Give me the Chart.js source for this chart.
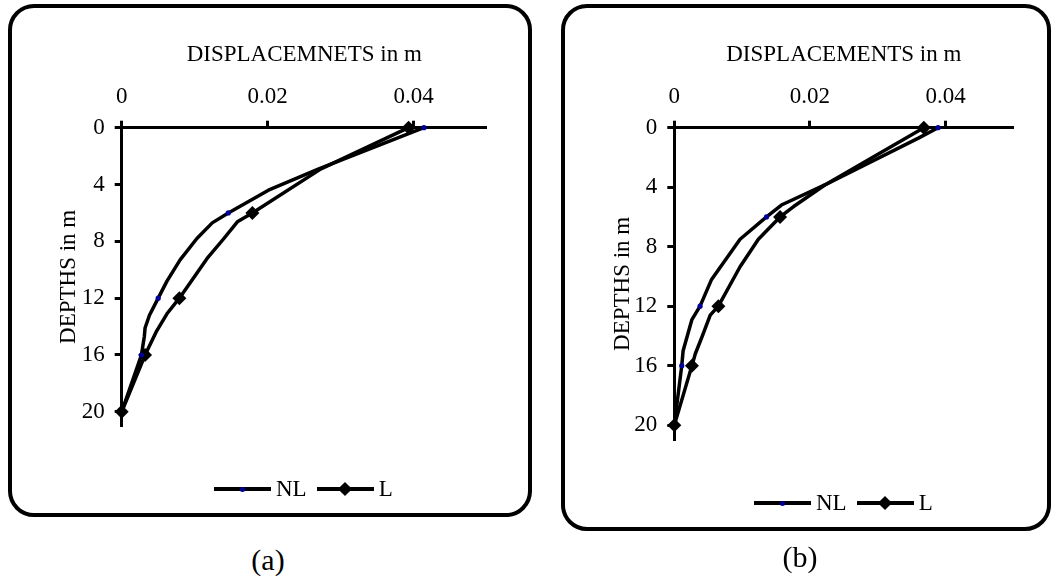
<!DOCTYPE html>
<html>
<head>
<meta charset="utf-8">
<script src="https://cdn.jsdelivr.net/npm/chart.js@4.4.0/dist/chart.umd.min.js"></script>
<style>
body{margin:0;background:#fff;width:1052px;height:579px;position:relative;overflow:hidden;font-family:'Liberation Serif','Times New Roman',serif;color:#000;}
.box{position:absolute;border:4px solid #000;border-radius:26px;box-sizing:border-box;}
canvas{position:absolute;top:0;}
.legend{position:absolute;display:flex;align-items:center;height:26px;font-size:23px;}
.lg-line{position:relative;width:57px;height:4px;background:#000;}
.lg-dot{position:absolute;left:50%;top:50%;width:5px;height:5px;margin:-2.5px 0 0 -2.5px;border-radius:50%;background:#000099;}
.lg-dia{position:absolute;left:50%;top:50%;width:10px;height:10px;margin:-5px 0 0 -5px;background:#000;transform:rotate(45deg);}
.legend span{margin:0 10px 0 5px;}
.cap{position:absolute;font-size:30px;transform:translate(-50%,-50%);}
</style>
</head>
<body>
<div class="box" style="left:8px;top:4px;width:524px;height:513px"></div>
<div class="box" style="left:561px;top:4px;width:490px;height:527px"></div>
<canvas id="chart-a" width="530" height="515" style="left:0"></canvas>
<canvas id="chart-b" width="512" height="530" style="left:540px"></canvas>
<div class="legend" id="legend-a" style="left:214px;top:476px"></div>
<div class="legend" id="legend-b" style="left:754px;top:490px"></div>
<div class="cap" style="left:268px;top:560px">(a)</div>
<div class="cap" style="left:800px;top:557px">(b)</div>
<script>
// (a) values, depth in m / displacement in m
const nlDepthA = [0, 2.9, 4.4, 6, 6.7, 7.8, 9.3, 10.8, 12, 13.2, 14.1, 14.7, 16, 20];
const nlDispA  = [0.0414, 0.0270, 0.0201, 0.0146, 0.0124, 0.0103, 0.0080, 0.0062, 0.0050, 0.0038, 0.0032, 0.0031, 0.0027, 0];
const lDepthA  = [0, 2.9, 6, 6.6, 7.8, 9.2, 12, 13.1, 14.3, 16, 20];
const lDispA   = [0.0393, 0.0273, 0.0179, 0.0159, 0.0140, 0.0117, 0.0079, 0.0062, 0.0048, 0.0032, 0];

// (b)
const nlDepthB = [0, 0.7, 3.85, 5.2, 6, 7.5, 10.2, 12, 12.9, 15, 16, 20];
const nlDispB  = [0.0389, 0.0360, 0.0222, 0.0158, 0.0136, 0.0097, 0.0055, 0.0038, 0.0026, 0.0013, 0.0011, 0];
const lDepthB  = [0, 3.85, 5.3, 6, 7.5, 9.35, 12, 12.6, 14.05, 15.2, 16, 20];
const lDispB   = [0.0368, 0.0222, 0.0176, 0.0156, 0.0124, 0.0097, 0.0065, 0.0053, 0.0041, 0.0031, 0.0026, 0];

// depths carrying a marker
const NL_MARKS = [0, 6, 12, 16];
const L_MARKS  = [0, 6, 12, 16, 20];

const X_TICKS = [0, 0.02, 0.04];
const Y_TICKS = [0, 4, 8, 12, 16, 20];

const FONT = {family:"'Liberation Serif','Times New Roman',serif", size:23};
Chart.defaults.font.family = FONT.family;
Chart.defaults.color = '#000';

function pts(disp, depth) { return disp.map((v,i)=>({x:v, y:depth[i]})); }
function markR(marks, r) { return c => (c.raw && marks.includes(c.raw.y)) ? r : 0; }

const axisGrid = {drawOnChartArea:false, drawTicks:true, tickLength:7, tickWidth:3, color:'#000'};
const axisBorder = {display:true, color:'#000', width:3};

function buildDepthChart(id, nl, l, lay) {
  new Chart(document.getElementById(id), {
    type:'scatter',
    data:{datasets:[
      {label:'NL', data:nl, showLine:true, borderColor:'#000', borderWidth:3.5, borderJoinStyle:'round', tension:0, clip:false,
       pointStyle:'circle', pointBackgroundColor:'#000099', pointBorderWidth:0,
       pointRadius:markR(NL_MARKS,2.6), pointHoverRadius:markR(NL_MARKS,2.6)},
      {label:'L', data:l, showLine:true, borderColor:'#000', borderWidth:3.5, borderJoinStyle:'round', tension:0, clip:false,
       pointStyle:'rectRot', pointBackgroundColor:'#000', pointBorderWidth:0,
       pointRadius:markR(L_MARKS,7), pointHoverRadius:markR(L_MARKS,7)},
    ]},
    options:{
      responsive:false, animation:false, events:[],
      layout:{padding:{left:0, top:0, right:lay.right, bottom:lay.bottom}},
      plugins:{legend:{display:false}, tooltip:{enabled:false}},
      scales:{
        x:{type:'linear', position:'top', min:0, max:0.05,
           afterFit:s=>{ s.height = lay.top; },
           afterBuildTicks:s=>{ s.ticks = X_TICKS.map(v=>({value:v})); },
           ticks:{color:'#000', font:FONT, padding:10, maxRotation:0, callback:v=>v===0?'0':v.toFixed(2)},
           grid:axisGrid, border:axisBorder,
           title:{display:true, text:lay.title, color:'#000', font:FONT, padding:{top:41, bottom:0}}},
        y:{type:'linear', reverse:true, min:0, max:21,
           afterFit:s=>{ s.width = lay.left; },
           afterBuildTicks:s=>{ s.ticks = Y_TICKS.map(v=>({value:v})); },
           ticks:{color:'#000', font:FONT, padding:10},
           grid:axisGrid, border:axisBorder,
           title:{display:true, text:'DEPTHS in m', color:'#000', font:FONT, padding:{top:lay.ytitle, bottom:0}}},
      },
    },
  });
}

function buildLegend(id) {
  document.getElementById(id).innerHTML =
    '<div class="lg-line"><div class="lg-dot"></div></div><span>NL</span>' +
    '<div class="lg-line"><div class="lg-dia"></div></div><span>L</span>';
}

buildDepthChart('chart-a', pts(nlDispA,nlDepthA), pts(lDispA,lDepthA),
  {title:'DISPLACEMNETS in m', top:127.7, left:121.7, right:43.3, bottom:89, ytitle:55});
buildDepthChart('chart-b', pts(nlDispB,nlDepthB), pts(lDispB,lDepthB),
  {title:'DISPLACEMENTS in m', top:127.7, left:134.3, right:38.7, bottom:90, ytitle:69});
buildLegend('legend-a');
buildLegend('legend-b');
</script>
</body>
</html>
